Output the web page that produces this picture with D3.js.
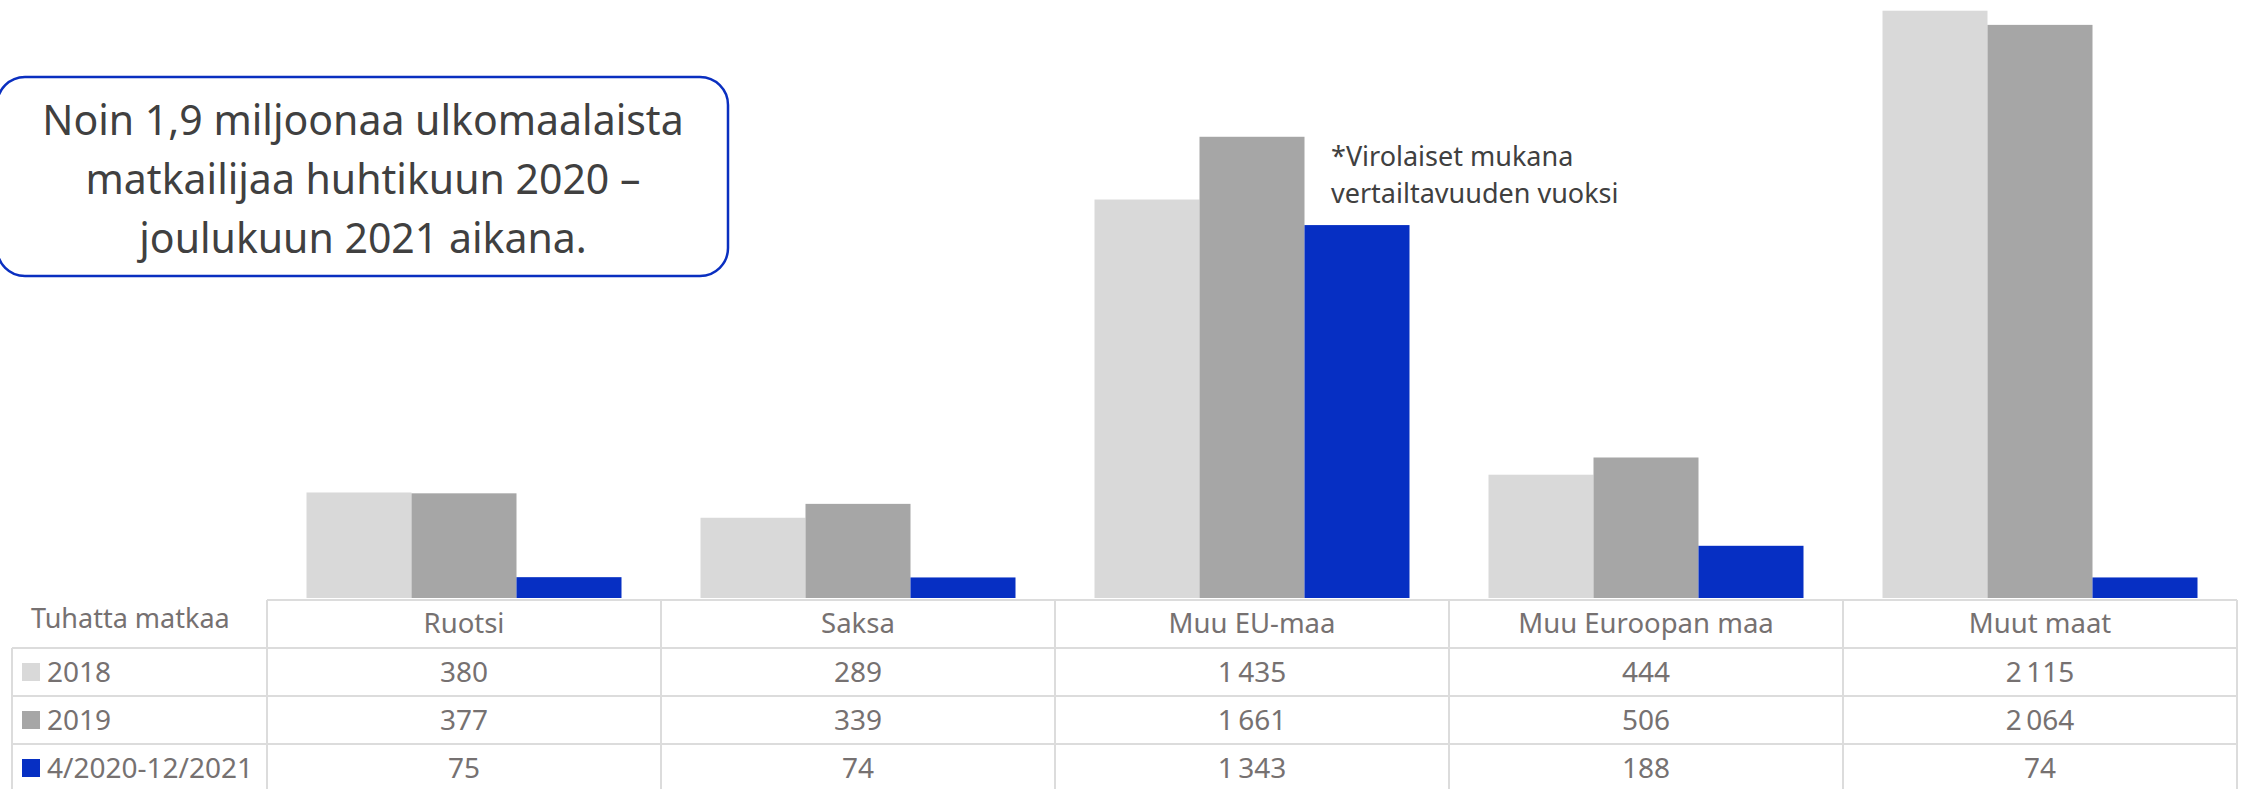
<!DOCTYPE html>
<html>
<head>
<meta charset="utf-8">
<script src="https://cdn.jsdelivr.net/npm/d3@7"></script>
<style>
  html, body { margin: 0; padding: 0; background: #ffffff; }
  svg { display: block; }
  text { font-family: "Noto Sans", "Open Sans", sans-serif; }
</style>
</head>
<body>
<svg id="chart" width="2244" height="789"></svg>
<script>
// ---- data ----
const categories = ["Ruotsi", "Saksa", "Muu EU-maa", "Muu Euroopan maa", "Muut maat"];
const seriesNames = ["2018", "2019", "4/2020-12/2021"];
const values2018 = [380, 289, 1435, 444, 2115];
const values2019 = [377, 339, 1661, 506, 2064];
const values2020 = [75, 74, 1343, 188, 74];
const unitLabel = "Tuhatta matkaa";
const boxLines = ["Noin 1,9 miljoonaa ulkomaalaista", "matkailijaa huhtikuun 2020 –", "joulukuun 2021 aikana."];
const noteLines = ["*Virolaiset mukana", "vertailtavuuden vuoksi"];

const seriesValues = [values2018, values2019, values2020];
const colors = ["#d9d9d9", "#a6a6a6", "#062fc3"];

const svg = d3.select("#chart");

const fi = d3.formatLocale({ decimal: ",", thousands: "\u2009", grouping: [3], currency: ["", "€"] });
const fmt = fi.format(",d");

// ---- scales ----
const x = d3.scaleBand().domain(categories).range([267, 2237]).paddingInner(0).paddingOuter(0);
const xs = d3.scaleBand().domain(seriesNames).range([39.5, x.bandwidth() - 39.5]).padding(0);
const y = d3.scaleLinear().domain([0, 2150]).range([598, 1]);

// ---- bars ----
const gBars = svg.append("g");
seriesNames.forEach((s, si) => {
  gBars.selectAll(null)
    .data(categories.map((c, ci) => ({ c, v: seriesValues[si][ci] })))
    .join("rect")
    .attr("x", d => x(d.c) + xs(s))
    .attr("y", d => y(d.v))
    .attr("width", xs.bandwidth())
    .attr("height", d => y(0) - y(d.v))
    .attr("fill", colors[si]);
});

// ---- data table ----
const tTop = 600, hdrBottom = 648, rowH = 48, tLeft = 12, tBottom = 789;
const lineColor = "#dcdcdc";
const textColor = "#767171";
const gT = svg.append("g");

// horizontal lines
gT.append("line").attr("x1", x.range()[0]).attr("x2", x.range()[1]).attr("y1", tTop).attr("y2", tTop)
  .attr("stroke", lineColor).attr("stroke-width", 2);
for (let i = 0; i < seriesNames.length; i++) {
  const yy = hdrBottom + i * rowH;
  gT.append("line").attr("x1", tLeft).attr("x2", x.range()[1]).attr("y1", yy).attr("y2", yy)
    .attr("stroke", lineColor).attr("stroke-width", 2);
}
// vertical lines
gT.append("line").attr("x1", tLeft).attr("x2", tLeft).attr("y1", hdrBottom).attr("y2", tBottom)
  .attr("stroke", lineColor).attr("stroke-width", 2);
categories.forEach(c => {
  gT.append("line").attr("x1", x(c)).attr("x2", x(c)).attr("y1", tTop).attr("y2", tBottom)
    .attr("stroke", lineColor).attr("stroke-width", 2);
});
gT.append("line").attr("x1", x.range()[1]).attr("x2", x.range()[1]).attr("y1", tTop).attr("y2", tBottom)
  .attr("stroke", lineColor).attr("stroke-width", 2);

// header texts
gT.append("text").attr("x", 31).attr("y", 628).text(unitLabel)
  .attr("font-size", 27).attr("fill", textColor);
gT.selectAll(null).data(categories).join("text")
  .attr("x", d => x(d) + x.bandwidth() / 2).attr("y", 633)
  .attr("text-anchor", "middle").attr("font-size", 27.5).attr("fill", textColor)
  .text(d => d);

// rows
seriesNames.forEach((s, si) => {
  const top = hdrBottom + si * rowH;
  gT.append("rect").attr("x", 22).attr("y", top + 15).attr("width", 18).attr("height", 18).attr("fill", colors[si]);
  gT.append("text").attr("x", 47).attr("y", top + 34).attr("font-size", 28).attr("fill", textColor).text(s);
  gT.selectAll(null).data(categories.map((c, ci) => ({ c, v: seriesValues[si][ci] }))).join("text")
    .attr("x", d => x(d.c) + x.bandwidth() / 2).attr("y", top + 34)
    .attr("text-anchor", "middle").attr("font-size", 28).attr("fill", textColor)
    .text(d => fmt(d.v));
});

// ---- callout box ----
const gBox = svg.append("g");
gBox.append("rect").attr("x", -3).attr("y", 77).attr("width", 731).attr("height", 199).attr("rx", 28).attr("ry", 28)
  .attr("fill", "#ffffff").attr("stroke", "#0a2fc0").attr("stroke-width", 2.5);
gBox.selectAll(null).data(boxLines).join("text")
  .attr("x", 363).attr("y", (d, i) => 135 + i * 59)
  .attr("text-anchor", "middle").attr("font-size", 41).attr("fill", "#404040")
  .text(d => d);

// ---- note ----
svg.append("g").selectAll(null).data(noteLines).join("text")
  .attr("x", 1331).attr("y", (d, i) => 166 + i * 37)
  .attr("font-size", 27).attr("fill", "#404040")
  .text(d => d);
</script>
</body>
</html>
